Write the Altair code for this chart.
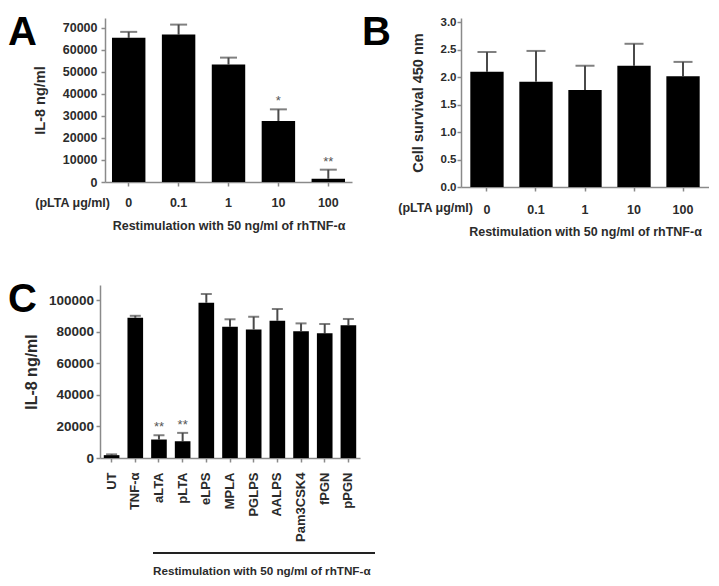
import altair as alt
import pandas as pd

FONT = "Liberation Sans"
TXT = "#2b2b2b"
AXC = "#8a8a8a"
ERRC = "#4a4a4a"

# ---------------- data ----------------
# Panel A : IL-8 after pLTA pre-treatment
a_doses = ["0", "0.1", "1", "10", "100"]
a_mean = [65500, 67000, 53400, 27700, 1500]
a_err = [68200, 71500, 56500, 33000, 5600]
a_star = ["", "", "", "*", "**"]

# Panel B : cell survival
b_doses = ["0", "0.1", "1", "10", "100"]
b_mean = [2.10, 1.92, 1.77, 2.21, 2.02]
b_err = [2.46, 2.48, 2.21, 2.61, 2.28]
b_star = ["", "", "", "", ""]

# Panel C : IL-8 after different TLR ligands
c_treat = ["UT", "TNF-α", "aLTA", "pLTA", "eLPS", "MPLA", "PGLPS", "AALPS",
           "Pam3CSK4", "fPGN", "pPGN"]
c_mean = [1800, 88800, 11700, 10600, 98300, 83100, 81400, 86900, 80300, 78900, 84000]
c_err = [2300, 90000, 14400, 15900, 103800, 87800, 89400, 94300, 85200, 84800, 88000]
c_star = ["", "", "**", "**", "", "", "", "", "", "", ""]

a_ticks = [0, 10000, 20000, 30000, 40000, 50000, 60000, 70000]
b_ticks = [0.0, 0.5, 1.0, 1.5, 2.0, 2.5, 3.0]
c_ticks = [0, 20000, 40000, 60000, 80000, 100000]

XTITLE = "Restimulation with 50 ng/ml of rhTNF-α"


def panel(cats, means, errs, stars, letter, *, width, height, pad_in, pad_out,
          ydom, yvals, yfmt, ytitle, ytitle_size, ylab_size, ylab_pad, ytitle_pad,
          xaxis, cap, letter_xy, extra_layers, xrange=None, yoffset=0):
    df = pd.DataFrame({"cat": cats, "mean": means, "err": errs, "star": stars})
    if xrange is not None:
        xs = alt.Scale(paddingInner=pad_in, paddingOuter=pad_out, range=xrange)
    else:
        xs = alt.Scale(paddingInner=pad_in, paddingOuter=pad_out)
    ys = alt.Scale(domain=ydom, nice=False, zero=True)
    yax = alt.Axis(values=yvals, format=yfmt, title=ytitle, titleFontSize=ytitle_size,
                   labelFontSize=ylab_size, labelPadding=ylab_pad, titlePadding=ytitle_pad,
                   offset=yoffset)

    def X():
        return alt.X("cat:N", sort=cats, scale=xs, axis=xaxis)

    def Y(f):
        return alt.Y(f, scale=ys, axis=yax, title=ytitle)

    base = alt.Chart(df)
    bars = base.mark_bar(color="#000000").encode(x=X(), y=Y("mean:Q"))
    whisk = base.mark_rule(color=ERRC, strokeWidth=2).encode(x=X(), y=Y("mean:Q"), y2="err:Q")
    caps = base.mark_tick(color=ERRC, size=cap, thickness=2).encode(x=X(), y=Y("err:Q"))
    star = base.mark_text(color="#555555", fontSize=13, font=FONT, dy=-8,
                          baseline="middle").encode(x=X(), y=Y("err:Q"), text="star:N")
    lt = alt.Chart(pd.DataFrame({"t": [letter]})).mark_text(
        align="left", baseline="top", fontSize=40, fontWeight="bold", font=FONT,
        color="#000000").encode(x=alt.value(letter_xy[0]), y=alt.value(letter_xy[1]), text="t:N")
    layers = [whisk, caps, bars, star, lt] + extra_layers
    return alt.layer(*layers).properties(width=width, height=height)


def plta_label(xr, yr):
    return alt.Chart(pd.DataFrame({"t": ["(pLTA μg/ml)"]})).mark_text(
        align="right", baseline="middle", fontSize=12.5, fontWeight="bold", font=FONT,
        color=TXT).encode(x=alt.value(xr), y=alt.value(yr), text="t:N")


# invisible spacer fixing the top margin above panel A's plot area
top_pad = alt.Chart(pd.DataFrame({"t": [""]})).mark_rule(
    opacity=0, strokeWidth=1).encode(x=alt.value(0), x2=alt.value(10), y=alt.value(-9.5))

ax_ab = dict(title=XTITLE, labelAngle=0, labelFontSize=12.5, titleFontSize=12.5)

# panel A is drawn 5 px to the right of panel C inside the same grid column
A = panel(a_doses, a_mean, a_err, a_star, "A", width=252, height=164,
          pad_in=0.33, pad_out=0.14, ydom=[0, 74500], yvals=a_ticks, yfmt="d",
          ytitle="IL-8 ng/ml", ytitle_size=14.5, ylab_size=12.5, ylab_pad=4, ytitle_pad=15,
          xaxis=alt.Axis(labelPadding=10.5, titlePadding=10, **ax_ab), cap=17,
          letter_xy=(-92, -5), extra_layers=[plta_label(10, 185), top_pad],
          xrange=[5, 252], yoffset=-5)

B = panel(b_doses, b_mean, b_err, b_star, "B", width=248, height=169,
          pad_in=0.32, pad_out=0.19, ydom=[0, 3.08], yvals=b_ticks, yfmt=".1f",
          ytitle="Cell survival 450 nm", ytitle_size=14.5, ylab_size=11.5, ylab_pad=1,
          ytitle_pad=14.5,
          xaxis=alt.Axis(labelPadding=12, titlePadding=10, **ax_ab), cap=19,
          letter_xy=(-99, -5), extra_layers=[plta_label(12, 190)])

c_line = alt.Chart(pd.DataFrame({"t": [XTITLE]})).mark_rule(
    color="#222222", strokeWidth=2).encode(
    x=alt.value(53), x2=alt.value(275), y=alt.value(268))
c_text = alt.Chart(pd.DataFrame({"t": [XTITLE]})).mark_text(
    align="left", baseline="middle", fontSize=11.7, fontWeight="bold", font=FONT,
    color=TXT).encode(x=alt.value(53), y=alt.value(286), text="t:N")

C = panel(c_treat, c_mean, c_err, c_star, "C", width=260, height=173,
          pad_in=0.34, pad_out=0.16, ydom=[0, 109500], yvals=c_ticks, yfmt="d",
          ytitle="IL-8 ng/ml", ytitle_size=16, ylab_size=13.5, ylab_pad=2.5, ytitle_pad=8.5,
          xaxis=alt.Axis(title=None, labelAngle=-90, labelFontSize=13, labelPadding=10),
          cap=11, letter_xy=(-92, -5), extra_layers=[c_line, c_text])

chart = alt.concat(A, B, C, columns=2, spacing={"row": 98, "column": 101},
                   bounds="flush").properties(padding=0, background="white")

chart = chart.configure_view(stroke=None).configure_axis(
    grid=False, domainColor=AXC, tickColor=AXC, domainWidth=1.5, tickWidth=1.5,
    tickSize=4, labelFont=FONT, titleFont=FONT, labelColor=TXT, titleColor=TXT,
    labelFontWeight="bold", titleFontWeight="bold")

chart.save("out.html", embed_options={"renderer": "svg", "actions": False})
